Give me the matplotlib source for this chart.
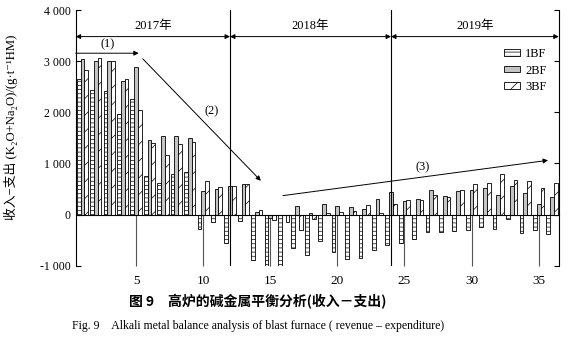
import matplotlib
matplotlib.use("Agg")
import matplotlib.pyplot as plt
import numpy as np

plt.rcParams['font.family'] = ['Liberation Serif', 'Noto Sans CJK SC', 'DejaVu Sans']
plt.rcParams['hatch.linewidth'] = 0.5

months = list(range(1, 37))
bf1 = [2643, 2435, 2416, 1968, 2253, 747, 615, 792, 835, -292, -155, -560,
       -136, -883, -1000, -1000, -662, -795, -513, -740, -877, -857, -695, -591,
       -560, -487, -351, -351, -320, -305, -250, -276, -88, -354, -312, -373]
bf2 = [3039, 3006, 3000, 2604, 2877, 1461, 1539, 1539, 1490, 455, 494, 565,
       591, 58, -60, 0, 162, 30, 208, 162, 149, 117, 299, 435,
       260, 312, 480, 370, 468, 480, 513, 377, 560, 416, 198, 348]
bf3 = [2825, 3071, 3000, 2649, 2045, 1396, 1169, 1377, 1416, 646, 535, 565,
       591, 91, -100, -140, -310, -80, 36, 45, 78, 188, 20, 201,
       286, 283, 377, 341, 480, 604, 610, 802, 682, 665, 522, 623]
series_names = ['1BF', '2BF', '3BF']
xticks = [5, 10, 15, 20, 25, 30, 35]
yticks = [-1000, 0, 1000, 2000, 3000, 4000]
ytick_labels = ['-1 000', '0', '1 000', '2 000', '3 000', '4 000']
years = ['2017年', '2018年', '2019年']
year_bounds = [0.5, 12, 24, 36.5]

fig = plt.figure(figsize=(5.69, 3.45), dpi=100)
ax = fig.add_axes([0.133, 0.230, 0.849, 0.741])

x = np.array(months, dtype=float)
w = 0.28
ax.bar(x - w, bf1, w, color='white', edgecolor='black', linewidth=0.6,
       hatch='----', label=series_names[0], zorder=3)
ax.bar(x, bf2, w, color='#c4c4c4', edgecolor='black', linewidth=0.6,
       label=series_names[1], zorder=3)
ax.bar(x + w, bf3, w, color='white', edgecolor='black', linewidth=0.6,
       hatch='//', label=series_names[2], zorder=3)

ax.set_xlim(0.5, 36.5)
ax.set_ylim(-1000, 4000)

ax.spines['top'].set_visible(False)
ax.spines['bottom'].set_position(('data', 0))
ax.spines['bottom'].set_zorder(4)
for s in ['left', 'right', 'bottom']:
    ax.spines[s].set_linewidth(0.8)

ax.set_xticks(xticks)
ax.set_xticklabels([str(t) for t in xticks])
ax.tick_params(axis='x', direction='out', length=36.9, width=0.8, color='#555555',
               pad=7, labelsize=9.5)
ax.set_yticks(yticks)
ax.set_yticklabels(ytick_labels)
ax.tick_params(axis='y', direction='in', length=3.6, width=0.8, right=True,
               labelsize=8.5)

for b in year_bounds[1:3]:
    ax.axvline(b, color='black', linewidth=0.8, zorder=5)
for i, name in enumerate(years):
    a, b = year_bounds[i], year_bounds[i + 1]
    ax.annotate('', xy=(b, 3480), xytext=(a, 3480),
                arrowprops=dict(arrowstyle='<|-|>', color='black', lw=0.7,
                                mutation_scale=7, shrinkA=0, shrinkB=0))
    ax.text((a + b) / 2, 3690, name, ha='center', va='center', fontsize=9)

ax.annotate('', xy=(5.2, 3155), xytext=(0.5, 3155),
            arrowprops=dict(arrowstyle='-|>', color='black', lw=0.7,
                            mutation_scale=7, shrinkA=0, shrinkB=0))
ax.text(2.85, 3330, '(1)', ha='center', va='center', fontsize=9)
ax.annotate('', xy=(14.3, 660), xytext=(5.5, 3045),
            arrowprops=dict(arrowstyle='-|>', color='black', lw=0.7,
                            mutation_scale=7, shrinkA=0, shrinkB=0))
ax.text(10.6, 2012, '(2)', ha='center', va='center', fontsize=9)
ax.annotate('', xy=(35.7, 1060), xytext=(15.95, 370),
            arrowprops=dict(arrowstyle='-|>', color='black', lw=0.7,
                            mutation_scale=7, shrinkA=0, shrinkB=0))
ax.text(26.35, 928, '(3)', ha='center', va='center', fontsize=9)

ax.legend(loc='upper left', bbox_to_anchor=(0.874, 0.875), frameon=False,
          fontsize=9, borderpad=0, labelspacing=0.35, handlelength=1.3,
          handleheight=0.45, handletextpad=0.4)

ax.set_ylabel('收入−支出 (K₂O+Na₂O)/(g·t⁻¹HM)', fontsize=9.2,
              family=['Liberation Serif', 'Noto Sans CJK SC', 'DejaVu Sans'])
ax.yaxis.set_label_coords(-0.119, 0.54)

fig.text(0.453, 0.125, '图 9　高炉的碱金属平衡分析(收入－支出)', ha='center', va='center',
         fontsize=10, fontweight='bold', family=['Noto Sans CJK SC', 'DejaVu Sans'])
fig.text(0.453, 0.055, 'Fig. 9　Alkali metal balance analysis of blast furnace ( revenue – expenditure)',
         ha='center', va='center', fontsize=8.5,
         family=['Liberation Serif', 'Noto Sans CJK SC', 'DejaVu Sans'])

fig.savefig('out.png', dpi=100)
